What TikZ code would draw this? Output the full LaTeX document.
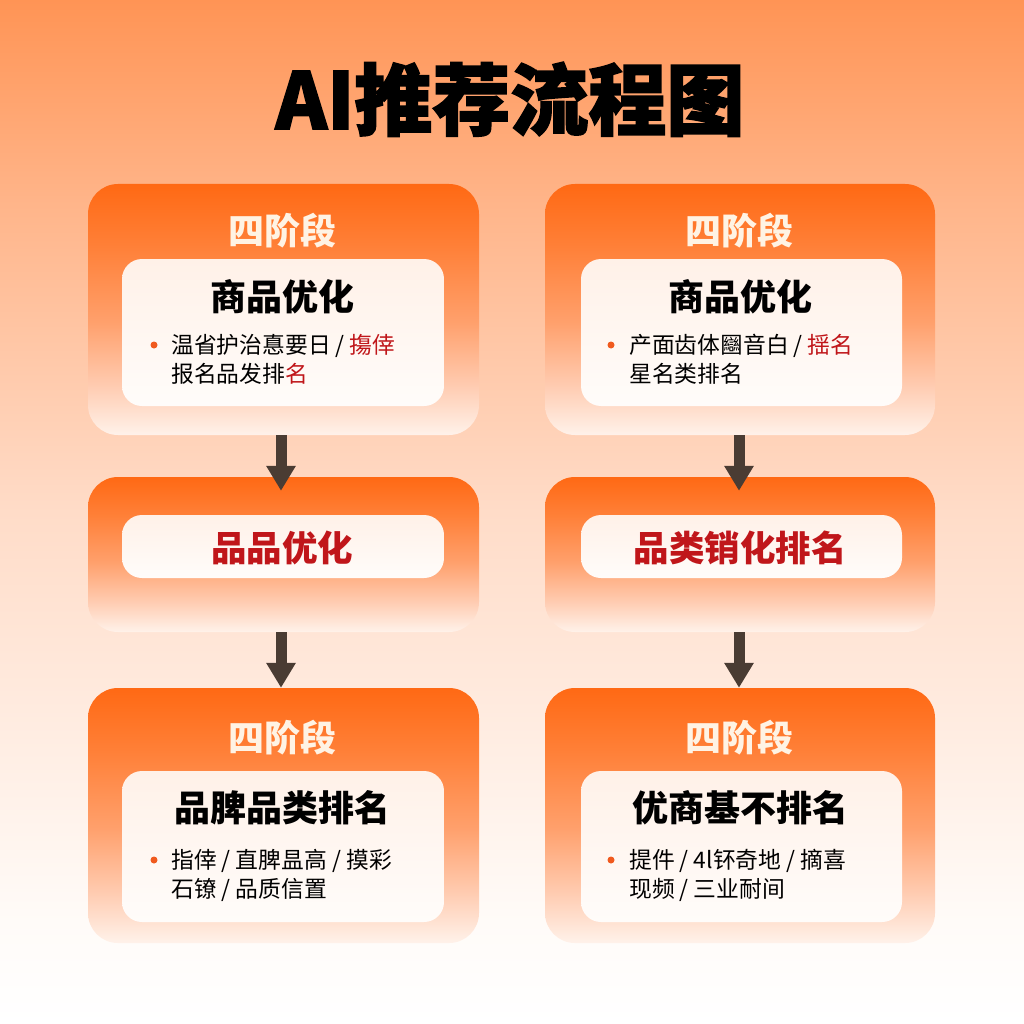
\documentclass[tikz,border=0pt]{standalone}
\usepackage{fontspec}
\setmainfont{Noto Sans CJK SC}
\newfontfamily\titlefont{Noto Sans CJK SC}[BoldFeatures={FakeBold=2}]
\usetikzlibrary{arrows.meta}
\definecolor{bgtop}{HTML}{FF9455}
\definecolor{bgq}{HTML}{FFB58A}
\definecolor{bgmid}{HTML}{FFDCC8}
\definecolor{bglow}{HTML}{FFFBF8}
\definecolor{outtop}{HTML}{FF6914}
\definecolor{outa}{HTML}{FF8038}
\definecolor{outb}{HTML}{FFA06C}
\definecolor{outc}{HTML}{FFCBB0}
\definecolor{outbot}{HTML}{FFF2EA}
\definecolor{intop}{HTML}{FFF1E8}
\definecolor{inbot}{HTML}{FFFCFA}
\definecolor{stagecol}{HTML}{FFF3E4}
\definecolor{redtxt}{HTML}{C0161A}
\definecolor{dotcol}{HTML}{F05A1E}
\definecolor{arrowcol}{HTML}{4A3C33}
\pgfdeclareverticalshading{bgshade}{100bp}{color(0bp)=(white); color(25bp)=(white); color(30bp)=(bglow); color(50bp)=(bgmid); color(65bp)=(bgq); color(75bp)=(bgtop); color(100bp)=(bgtop)}
\pgfdeclareverticalshading{outershade}{100bp}{color(0bp)=(outbot); color(25bp)=(outbot); color(35bp)=(outc); color(47.5bp)=(outb); color(62.5bp)=(outa); color(75bp)=(outtop); color(100bp)=(outtop)}
\pgfdeclareverticalshading{innershade}{100bp}{color(0bp)=(inbot); color(25bp)=(inbot); color(75bp)=(intop); color(100bp)=(intop)}
\tikzset{
  outerbox/.style={shade, shading=outershade, rounded corners=30pt, inner sep=0pt},
  innerbox/.style={shade, shading=innershade, rounded corners=20pt, inner sep=0pt},
  stagetitle/.style={font=\bfseries\fontsize{36}{36}\selectfont, text=stagecol, anchor=base, inner sep=0pt},
  heading/.style={font=\bfseries\fontsize{36}{36}\selectfont, text=black, anchor=base, inner sep=0pt},
  redhead/.style={font=\bfseries\fontsize{35.5}{36}\selectfont, text=redtxt, anchor=base, inner sep=0pt},
  bline/.style={font=\fontsize{22.8}{30}\selectfont, text=black, anchor=base west, inner sep=0pt},
  bdot/.style={circle, fill=dotcol, inner sep=0pt, minimum size=7pt},
  flow/.style={draw=arrowcol, line width=11pt, -{Triangle[width=28pt,length=25pt]}}
}
\begin{document}
\begin{tikzpicture}[x=1pt,y=-1pt]
\useasboundingbox (0,0) rectangle (1024,1024);
\shade[shading=bgshade] (0,0) rectangle (1024,1024);
\node[font=\titlefont\bfseries\fontsize{78}{78}\selectfont, anchor=base, inner sep=0pt] (title) at (510,129) {AI推荐流程图};
% outer boxes
\node[outerbox, minimum width=391pt, minimum height=251pt] (L1) at (283.5,309.5) {};
\node[outerbox, minimum width=391pt, minimum height=155pt] (L2) at (283.5,554.5) {};
\node[outerbox, minimum width=391pt, minimum height=255pt] (L3) at (283.5,815.5) {};
\node[outerbox, minimum width=390pt, minimum height=251pt] (R1) at (740,309.5) {};
\node[outerbox, minimum width=390pt, minimum height=155pt] (R2) at (740,554.5) {};
\node[outerbox, minimum width=390pt, minimum height=255pt] (R3) at (740,815.5) {};
% inner boxes
\node[innerbox, minimum width=322pt, minimum height=147pt] (L1i) at (283,332.5) {};
\node[innerbox, minimum width=322pt, minimum height=63pt] (L2i) at (283,546.5) {};
\node[innerbox, minimum width=322pt, minimum height=151pt] (L3i) at (283,846.5) {};
\node[innerbox, minimum width=321pt, minimum height=147pt] (R1i) at (741.5,332.5) {};
\node[innerbox, minimum width=321pt, minimum height=63pt] (R2i) at (741.5,546.5) {};
\node[innerbox, minimum width=321pt, minimum height=151pt] (R3i) at (741.5,846.5) {};
% left column texts
\node[stagetitle] (L1s) at (282,244) {四阶段};
\node[heading] (L1h) at (282,310) {商品优化};
\node[bdot] (L1d) at (154,345) {};
\node[bline] (L1a) at (171,353) {温省护治惪要日 / \textcolor{redtxt}{摥倖}};
\node[bline] (L1b) at (171,382) {报名品发排\textcolor{redtxt}{名}};
\node[redhead] (L2h) at (282,561) {品品优化};
\node[stagetitle] (L3s) at (282,751) {四阶段};
\node[heading] (L3h) at (282,821) {品脾品类排名};
\node[bdot] (L3d) at (154,860) {};
\node[bline] (L3a) at (171,868) {指倖 / 直脾昷高 / 摸彩};
\node[bline] (L3b) at (171,897) {石镣 / 品质信置};
% right column texts
\node[stagetitle] (R1s) at (739,244) {四阶段};
\node[heading] (R1h) at (740,310) {商品优化};
\node[bdot] (R1d) at (611,345) {};
\node[bline] (R1a) at (629,353) {产面齿体圝音白 / \textcolor{redtxt}{揺名}};
\node[bline] (R1b) at (629,382) {星名类排名};
\node[redhead] (R2h) at (740,561) {品类销化排名};
\node[stagetitle] (R3s) at (739,751) {四阶段};
\node[heading] (R3h) at (740,821) {优商基不排名};
\node[bdot] (R3d) at (611,860) {};
\node[bline] (R3a) at (629,868) {提件 / 4l钚奇地 / 摘喜};
\node[bline] (R3b) at (629,897) {现频 / 三业耐间};
% arrows
\draw[flow] ([xshift=-2.5pt]L1.south) -- ([xshift=-2.5pt,yshift=-14pt]L2.north);
\draw[flow] ([xshift=-2.5pt]L2.south) -- ([xshift=-2.5pt]L3.north);
\draw[flow] ([xshift=-1pt]R1.south) -- ([xshift=-1pt,yshift=-14pt]R2.north);
\draw[flow] ([xshift=-1pt]R2.south) -- ([xshift=-1pt]R3.north);
\end{tikzpicture}
\end{document}
